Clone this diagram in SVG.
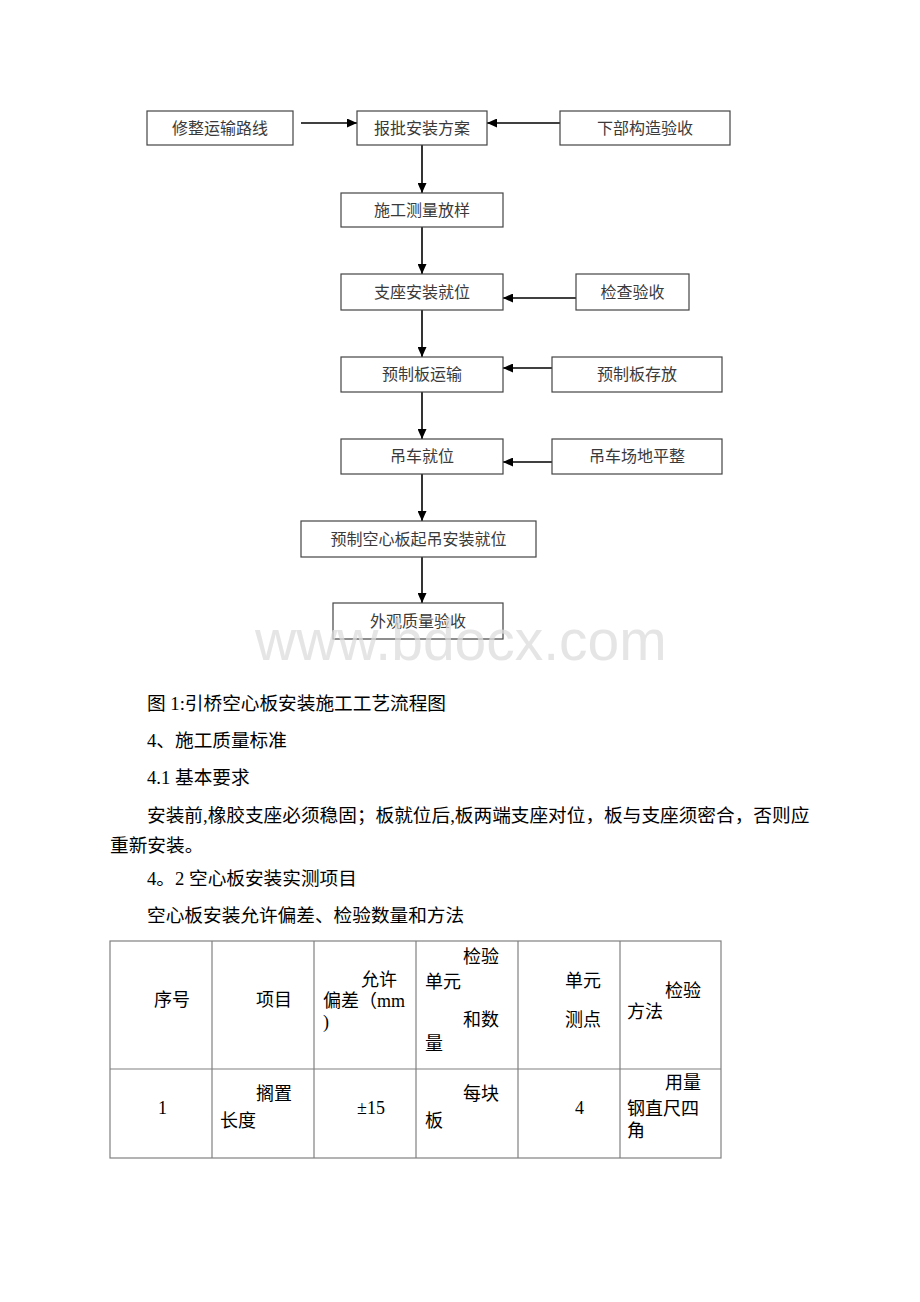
<svg xmlns="http://www.w3.org/2000/svg" width="920" height="1302" viewBox="0 0 920 1302">
<style>
.bg{fill:#ffffff}
.box{fill:#ffffff;stroke:#444444;stroke-width:1.2}
.nt{font-family:"Liberation Serif","Noto Sans CJK SC",serif;font-size:16px;fill:#3a3a3a;text-anchor:middle}
.conn{stroke:#000000;stroke-width:1.6;fill:none}
.body{font-family:"Liberation Serif","Noto Sans CJK SC",serif;font-size:18.67px;fill:#000000}
.td{font-family:"Liberation Serif","Noto Sans CJK SC",serif;font-size:18px;fill:#000000}
.grid{stroke:#808080;stroke-width:1.2;fill:none}
.wm{font-family:"Liberation Sans",Arial,sans-serif;font-size:57px;fill:#dcdcdc;fill-opacity:0.75}
</style>
<defs>
<marker id="ah" markerUnits="userSpaceOnUse" markerWidth="10" markerHeight="9" refX="10" refY="4.5" orient="auto">
<path d="M0,0 L10,4.5 L0,9 Z" fill="#000000"/>
</marker>
</defs>
<rect class="bg" x="0" y="0" width="920" height="1302"/>

<g id="connectors">
<line class="conn" x1="301" y1="123" x2="357" y2="123" marker-end="url(#ah)"/>
<line class="conn" x1="560" y1="123" x2="487" y2="123" marker-end="url(#ah)"/>
<line class="conn" x1="422" y1="145" x2="422" y2="193" marker-end="url(#ah)"/>
<line class="conn" x1="422" y1="227" x2="422" y2="274" marker-end="url(#ah)"/>
<line class="conn" x1="576" y1="298" x2="503" y2="298" marker-end="url(#ah)"/>
<line class="conn" x1="422" y1="310" x2="422" y2="357" marker-end="url(#ah)"/>
<line class="conn" x1="552" y1="368" x2="503" y2="368" marker-end="url(#ah)"/>
<line class="conn" x1="422" y1="392" x2="422" y2="439" marker-end="url(#ah)"/>
<line class="conn" x1="552" y1="462" x2="503" y2="462" marker-end="url(#ah)"/>
<line class="conn" x1="422" y1="474" x2="422" y2="521" marker-end="url(#ah)"/>
<line class="conn" x1="422" y1="557" x2="422" y2="603" marker-end="url(#ah)"/>
</g>

<g id="n_xiuzheng"><rect class="box" x="147" y="111" width="146" height="34"/><text class="nt" x="220" y="134">修整运输路线</text></g>
<g id="n_baopi"><rect class="box" x="357" y="111" width="130" height="34"/><text class="nt" x="422" y="134">报批安装方案</text></g>
<g id="n_xiabu"><rect class="box" x="560" y="111" width="170" height="34"/><text class="nt" x="645" y="134">下部构造验收</text></g>
<g id="n_celiang"><rect class="box" x="341" y="193" width="162" height="34"/><text class="nt" x="422" y="216">施工测量放样</text></g>
<g id="n_zhizuo"><rect class="box" x="341" y="274" width="162" height="36"/><text class="nt" x="422" y="298">支座安装就位</text></g>
<g id="n_jiancha"><rect class="box" x="576" y="274" width="113" height="36"/><text class="nt" x="632.5" y="298">检查验收</text></g>
<g id="n_yunshu"><rect class="box" x="341" y="357" width="162" height="35"/><text class="nt" x="422" y="380">预制板运输</text></g>
<g id="n_cunfang"><rect class="box" x="552" y="357" width="170" height="35"/><text class="nt" x="637" y="380">预制板存放</text></g>
<g id="n_diaoche"><rect class="box" x="341" y="439" width="162" height="35"/><text class="nt" x="422" y="462">吊车就位</text></g>
<g id="n_changdi"><rect class="box" x="552" y="439" width="170" height="35"/><text class="nt" x="637" y="462">吊车场地平整</text></g>
<g id="n_qidiao"><rect class="box" x="301" y="521" width="235" height="36"/><text class="nt" x="418.5" y="545">预制空心板起吊安装就位</text></g>
<g id="n_waiguan"><rect class="box" x="333" y="603" width="170" height="36"/><text class="nt" x="418" y="627">外观质量验收</text></g>

<g id="body-text">
<text class="body" x="147" y="710">图 1:引桥空心板安装施工工艺流程图</text>
<text class="body" x="147" y="747">4、施工质量标准</text>
<text class="body" x="147" y="784">4.1 基本要求</text>
<text class="body" x="147" y="822">安装前,橡胶支座必须稳固；板就位后,板两端支座对位，板与支座须密合，否则应</text>
<text class="body" x="110" y="852">重新安装。</text>
<text class="body" x="147" y="885">4。2 空心板安装实测项目</text>
<text class="body" x="147" y="922">空心板安装允许偏差、检验数量和方法</text>
</g>

<g id="table">
<rect class="grid" x="110" y="941" width="611" height="217"/>
<line class="grid" x1="212" y1="941" x2="212" y2="1158"/>
<line class="grid" x1="314" y1="941" x2="314" y2="1158"/>
<line class="grid" x1="416" y1="941" x2="416" y2="1158"/>
<line class="grid" x1="518" y1="941" x2="518" y2="1158"/>
<line class="grid" x1="620" y1="941" x2="620" y2="1158"/>
<line class="grid" x1="110" y1="1069" x2="721" y2="1069"/>

<text class="td" x="154" y="1006">序号</text>
<text class="td" x="256" y="1006">项目</text>
<text class="td" x="361" y="986">允许</text>
<text class="td" x="323" y="1007">偏差（mm</text>
<text class="td" x="323" y="1028">)</text>
<text class="td" x="463" y="963">检验</text>
<text class="td" x="425" y="988">单元</text>
<text class="td" x="463" y="1026">和数</text>
<text class="td" x="425" y="1050">量</text>
<text class="td" x="565" y="987">单元</text>
<text class="td" x="565" y="1026">测点</text>
<text class="td" x="665" y="997">检验</text>
<text class="td" x="627" y="1018">方法</text>

<text class="td" x="158" y="1114">1</text>
<text class="td" x="256" y="1100">搁置</text>
<text class="td" x="220" y="1127">长度</text>
<text class="td" x="357" y="1114">±15</text>
<text class="td" x="463" y="1100">每块</text>
<text class="td" x="425" y="1127">板</text>
<text class="td" x="575" y="1114">4</text>
<text class="td" x="665" y="1089">用量</text>
<text class="td" x="627" y="1115">钢直尺四</text>
<text class="td" x="627" y="1137">角</text>
</g>

<text class="wm" x="255" y="660">www.bdocx.com</text>
</svg>
